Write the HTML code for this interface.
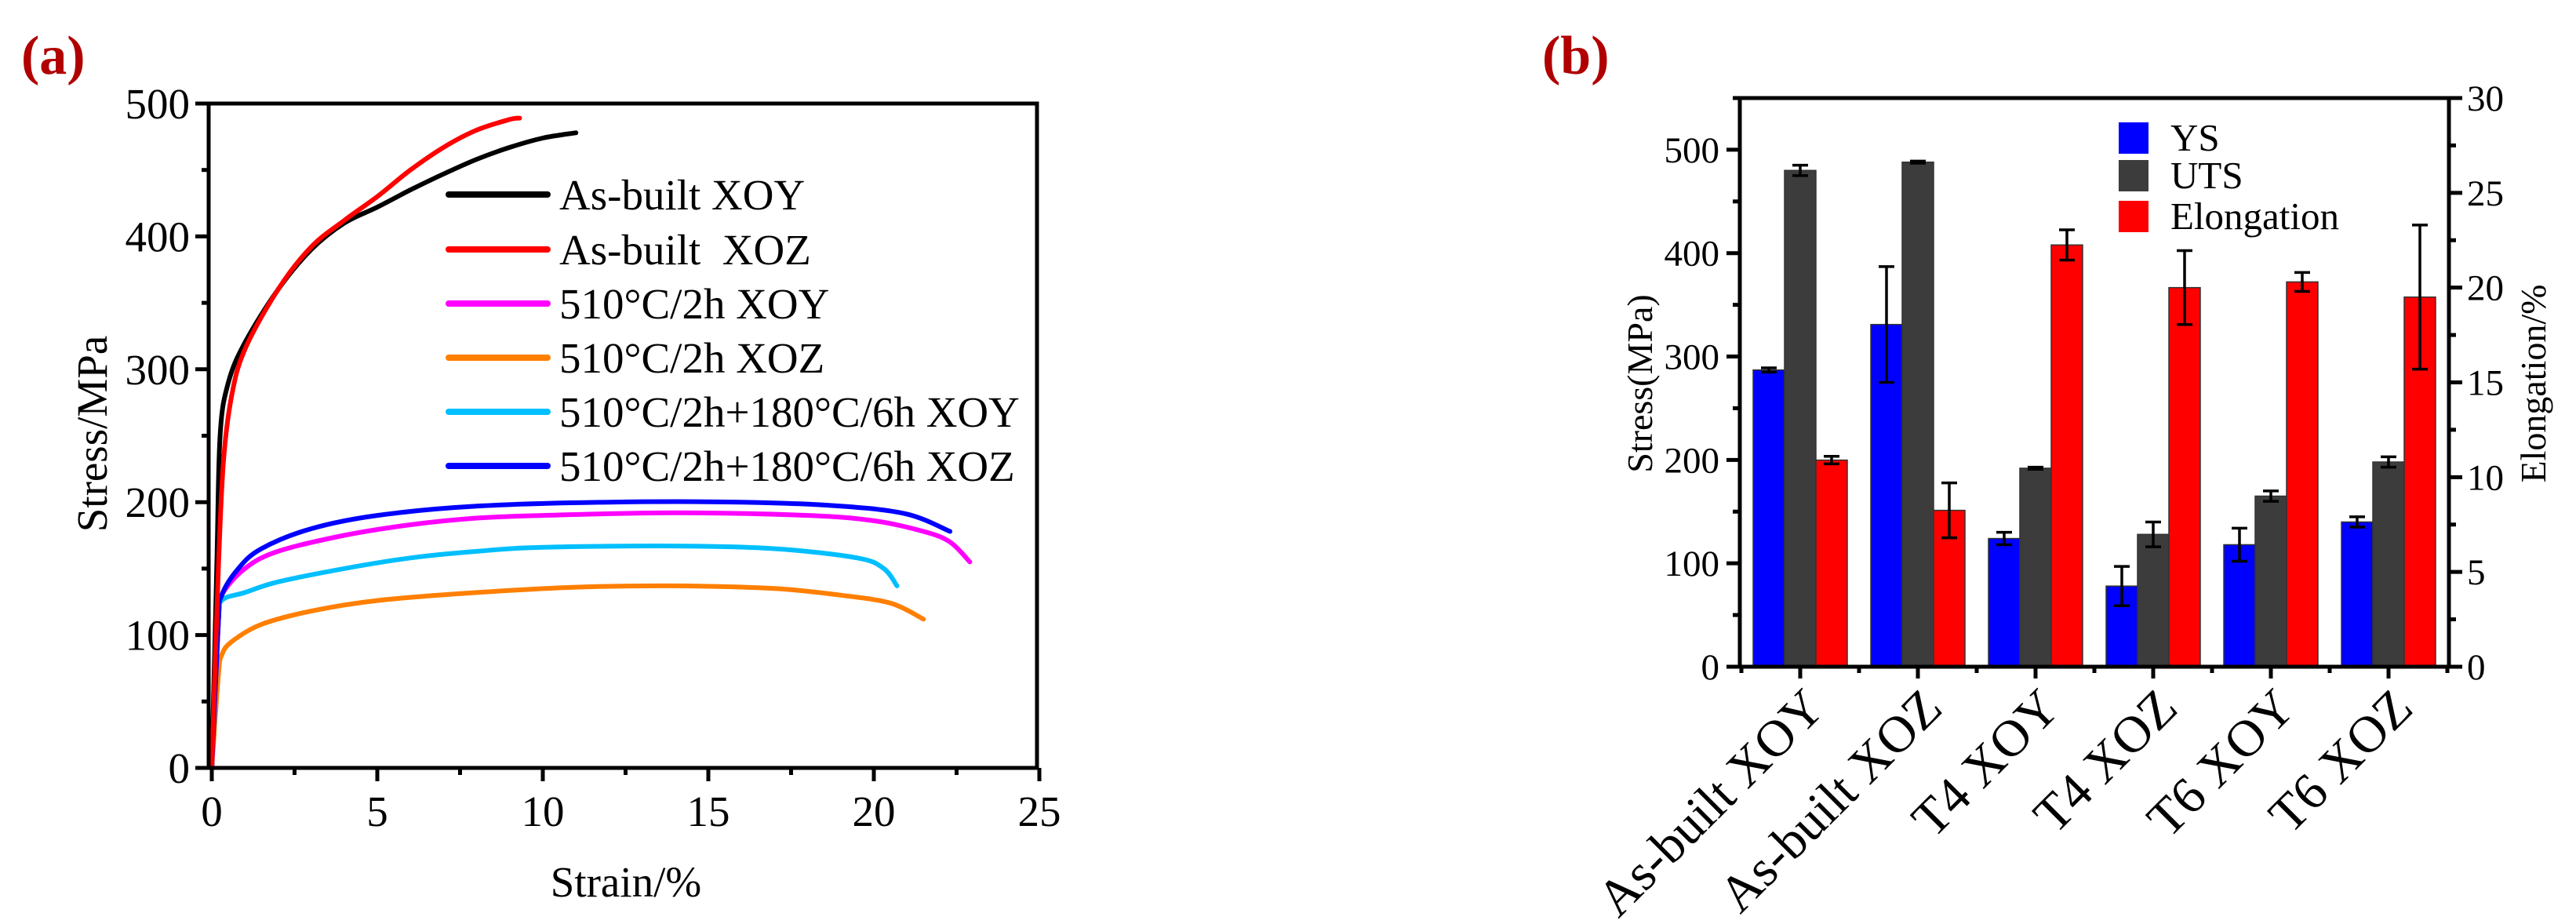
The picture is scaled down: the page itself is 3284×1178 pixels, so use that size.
<!DOCTYPE html>
<html><head><meta charset="utf-8"><style>
html,body{margin:0;padding:0;background:#fff;}
svg{display:block;font-family:"Liberation Serif","DejaVu Serif",serif;}
</style></head><body>
<svg id="fig" width="3284" height="1178" viewBox="0 0 3284 1178" xmlns="http://www.w3.org/2000/svg">
<rect width="3284" height="1178" fill="#fff"/>
<g id="pa"></g>
<g id="pb"></g>
</svg>
<script>
// ---------- Panel (a) data ----------
const seriesNames = ["As-built XOY","As-built  XOZ","510\u00B0C/2h XOY","510\u00B0C/2h XOZ","510\u00B0C/2h+180\u00B0C/6h XOY","510\u00B0C/2h+180\u00B0C/6h XOZ"];
const seriesColors = ["#000000","#ff0000","#ff00ff","#ff7f00","#00bfff","#0000ff"];
const strainBlack = [0,0.15,0.25,0.5,1,2,3,4,5,6,7,8,9,10,11];
const stressBlack = [0,150,250,290,320,360,390,410,422,435,447,458,467,474,478];
const strainRed = [0,0.2,0.35,0.6,1,2,3,4,5,6,7,8,9,9.3];
const stressRed = [0,150,230,280,315,360,392,412,430,450,467,480,488,489];
const strainMagenta = [0,0.2,0.3,1,2,4,6,8,10,14,18,20,21.5,22.3,22.9];
const stressMagenta = [0,110,130,150,163,175,183,188,190,192,190,186,178,170,155];
const strainOrange = [0,0.2,0.3,0.6,1.5,3,5,8,11,14,17,19,20.5,21.5];
const stressOrange = [0,70,85,95,108,118,126,132,136,137,135,130,124,112];
const strainCyan = [0,0.2,0.3,1,2,4,6,8,10,14,17,19.5,20.3,20.7];
const stressCyan = [0,110,126,132,140,150,158,163,166,167,165,158,150,137];
const strainBlue = [0,0.2,0.3,0.8,1.5,3,5,8,12,16,19,21,22.3];
const stressBlue = [0,110,130,150,165,180,190,197,200,200,197,191,178];
const xTicksA = [0,5,10,15,20,25];
const yTicksA = [0,100,200,300,400,500];

// ---------- Panel (b) data ----------
const categories = ["As-built XOY","As-built XOZ","T4 XOY","T4 XOZ","T6 XOY","T6 XOZ"];
const ysValues = [287,331,124,78,118,140];
const ysErrors = [2,56,6,19,16,5];
const utsValues = [480,488,192,128,165,198];
const utsErrors = [5,1,1,12,5,5];
const elongValues = [10.9,8.25,22.25,20.0,20.3,19.5];
const elongErrors = [0.2,1.45,0.8,1.95,0.5,3.8];
const yTicksB = [0,100,200,300,400,500];
const yTicksB2 = [0,5,10,15,20,25,30];

const NS="http://www.w3.org/2000/svg";
function mk(parent,tag,attrs,text){const e=document.createElementNS(NS,tag);for(const k in attrs)e.setAttribute(k,attrs[k]);if(text!==undefined)e.textContent=text;parent.appendChild(e);return e;}
function smoothPath(pts){
  let d='M'+pts[0][0].toFixed(1)+','+pts[0][1].toFixed(1);
  for(let i=0;i<pts.length-1;i++){
    const p0=pts[Math.max(0,i-1)],p1=pts[i],p2=pts[i+1],p3=pts[Math.min(pts.length-1,i+2)];
    const c1=[p1[0]+(p2[0]-p0[0])/6,p1[1]+(p2[1]-p0[1])/6];
    const c2=[p2[0]-(p3[0]-p1[0])/6,p2[1]-(p3[1]-p1[1])/6];
    d+=` C${c1[0].toFixed(1)},${c1[1].toFixed(1)} ${c2[0].toFixed(1)},${c2[1].toFixed(1)} ${p2[0].toFixed(1)},${p2[1].toFixed(1)}`;
  }
  return d;
}

// ===== Panel A =====
const pa=document.getElementById('pa');
const AL=266,AR=1322,AT=132,AB=979;
const xA=v=>270+v*42.2;
const yA=v=>AB-(v/500)*(AB-AT);
let t=mk(pa,'text',{x:27,y:94,'font-size':70,'font-weight':'bold',fill:'#b00000'},'(a)');


const strainArr=[strainBlack,strainRed,strainMagenta,strainOrange,strainCyan,strainBlue];
const stressArr=[stressBlack,stressRed,stressMagenta,stressOrange,stressCyan,stressBlue];
const order=[3,4,2,5,0,1];
order.forEach(i=>{
  const pts=strainArr[i].map((s,j)=>[xA(s),yA(stressArr[i][j])]);
  const p=mk(pa,'path',{d:smoothPath(pts),fill:'none',stroke:seriesColors[i],'stroke-width':6,'stroke-linejoin':'round','stroke-linecap':'round'});
  
  
});
let fr=mk(pa,'rect',{x:AL,y:AT,width:AR-AL,height:AB-AT,fill:'none',stroke:'#000','stroke-width':5});


for(let v=0;v<=25;v+=2.5){const major=v%5===0;mk(pa,'line',{x1:xA(v),x2:xA(v),y1:AB,y2:AB+(major?17:9),stroke:'#000','stroke-width':5});}
for(let v=0;v<=500;v+=50){const major=v%100===0;mk(pa,'line',{x1:AL,x2:AL-(major?17:9),y1:yA(v),y2:yA(v),stroke:'#000','stroke-width':5});}
xTicksA.forEach(v=>{const e=mk(pa,'text',{x:xA(v),y:1053,'font-size':55,'text-anchor':'middle'},String(v));
  
  });
yTicksA.forEach(v=>{const e=mk(pa,'text',{x:242,y:yA(v)+19,'font-size':55,'text-anchor':'end'},String(v));
  
  });
t=mk(pa,'text',{x:0,y:0,'font-size':55,'text-anchor':'middle',transform:'translate(136,553) rotate(-90)'},'Stress/MPa');


t=mk(pa,'text',{x:798,y:1143,'font-size':55,'text-anchor':'middle'},'Strain/%');


const legY=[248,318,387,456,525,594];
seriesNames.forEach((n,i)=>{
  const g=mk(pa,'g',{});
  
  
  mk(g,'line',{x1:572,x2:698,y1:legY[i],y2:legY[i],stroke:seriesColors[i],'stroke-width':8,'stroke-linecap':'round'});
  const tx=mk(g,'text',{x:713,y:legY[i]+19,'font-size':55},n);
  tx.style.whiteSpace='pre';
});

// ===== Panel B =====
const pb=document.getElementById('pb');
const BL=2218,BR=3122,BT=125,BB=850;
const yB=v=>BB-(v/550)*(BB-BT);
const yB2=v=>BB-(v/30)*(BB-BT);
const band=(BR-BL-4)/6;
const cx=i=>BL+2+band*(i+0.5);
t=mk(pb,'text',{x:1966,y:94,'font-size':70,'font-weight':'bold',fill:'#b00000'},'(b)');


const bw=40;
function bar(i,k,val,yf,color,err,name){
  const x=cx(i)-60+k*bw;
  const r=mk(pb,'rect',{x:x,y:yf(val),width:bw,height:BB-yf(val),fill:color,stroke:'#333','stroke-width':1.5});
  
  
  const m=x+bw/2,y1=yf(val+err),y2=yf(val-err);
  const eb=mk(pb,'g',{stroke:'#000','stroke-width':3.5});
  
  
  mk(eb,'line',{x1:m,x2:m,y1:y1,y2:y2});
  mk(eb,'line',{x1:m-10,x2:m+10,y1:y1,y2:y1});
  mk(eb,'line',{x1:m-10,x2:m+10,y1:y2,y2:y2});
}
categories.forEach((c,i)=>{
  bar(i,0,ysValues[i],yB,'#0000ff',ysErrors[i],'bar-ys-'+i);
  bar(i,1,utsValues[i],yB,'#3c3c3c',utsErrors[i],'bar-uts-'+i);
  bar(i,2,elongValues[i],yB2,'#ff0000',elongErrors[i],'bar-elongation-'+i);
});
mk(pb,'polyline',{points:`${BL},${BB} ${BL},${BT} ${BR},${BT} ${BR},${BB}`,fill:'none',stroke:'#000','stroke-width':5});
let ax=mk(pb,'line',{x1:BL-16,x2:BR+16,y1:BB,y2:BB,stroke:'#000','stroke-width':5});


for(let v=0;v<=550;v+=50){const major=v%100===0;mk(pb,'line',{x1:BL,x2:BL-(major?17:9),y1:yB(v),y2:yB(v),stroke:'#000','stroke-width':5});}
for(let v=0;v<=30;v+=2.5){const major=v%5===0;mk(pb,'line',{x1:BR,x2:BR+(major?17:9),y1:yB2(v),y2:yB2(v),stroke:'#000','stroke-width':5});}
for(let i=0;i<6;i++){mk(pb,'line',{x1:cx(i),x2:cx(i),y1:BB,y2:BB+15,stroke:'#000','stroke-width':5});}
for(let i=0;i<=6;i++){const x=BL+2+band*i;mk(pb,'line',{x1:x,x2:x,y1:BB,y2:BB+8,stroke:'#000','stroke-width':5});}
yTicksB.forEach(v=>{const e=mk(pb,'text',{x:2192,y:yB(v)+16,'font-size':47,'text-anchor':'end'},String(v));
  
  });
yTicksB2.forEach(v=>{const e=mk(pb,'text',{x:3145,y:yB2(v)+16,'font-size':47,'text-anchor':'start'},String(v));
  
  });
categories.forEach((c,i)=>{
  const x=cx(i)+34,y=906;
  const e=mk(pb,'text',{x:x,y:y,'font-size':66,'text-anchor':'end',transform:`rotate(-45 ${x} ${y})`},c);
  
  
});
t=mk(pb,'text',{x:0,y:0,'font-size':46,'text-anchor':'middle',transform:'translate(2106,489) rotate(-90)'},'Stress(MPa)');


t=mk(pb,'text',{x:0,y:0,'font-size':46,'text-anchor':'middle',transform:'translate(3245,489) rotate(-90)'},'Elongation/%');


const legB=[["YS","#0000ff",176],["UTS","#3c3c3c",224],["Elongation","#ff0000",276]];
legB.forEach(l=>{
  const g=mk(pb,'g',{});
  
  
  mk(g,'rect',{x:2701,y:l[2]-20,width:38,height:40,fill:l[1]});
  mk(g,'text',{x:2767,y:l[2]+16,'font-size':49},l[0]);
});
</script>
</body></html>
